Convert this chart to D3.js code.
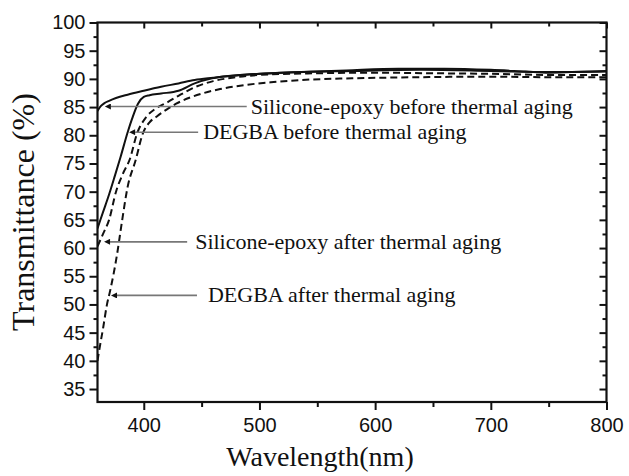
<!DOCTYPE html>
<html>
<head>
<meta charset="utf-8">
<script src="https://cdn.jsdelivr.net/npm/d3@7"></script>
<style>
  body { margin: 0; background: #fff; }
  svg { display: block; }
  .tick text { font-family: "Liberation Sans", Arial, sans-serif; font-size: 20px; fill: #111; }
  .tick line { stroke: #111; stroke-width: 2px; }
  .serif { font-family: "Liberation Serif", "Times New Roman", serif; fill: #111; }
</style>
</head>
<body>
<div id="chart"></div>
<script>
// wavelength (nm) / transmittance (%)
var siBeforeNm  = [360, 363, 366, 370, 376, 386, 400, 415, 430, 444, 460, 473, 500, 536, 575, 620, 660, 700, 730, 750, 770, 800];
var siBeforeT   = [84.3, 85.2, 85.7, 86.1, 86.6, 87.2, 87.9, 88.6, 89.2, 89.8, 90.2, 90.5, 90.9, 91.2, 91.5, 91.8, 91.8, 91.6, 91.3, 91.1, 91.2, 91.4];
var dgBeforeNm  = [360, 365, 370, 375, 380, 386, 390, 395, 400, 405, 415, 430, 444, 459, 480, 520, 580, 640, 700, 750, 800];
var dgBeforeT   = [63.5, 66.5, 69.5, 72.8, 76.2, 80.5, 83.0, 85.6, 86.8, 87.1, 87.4, 87.9, 89.2, 90.1, 90.6, 91.1, 91.4, 91.6, 91.4, 91.2, 91.3];
var siAfterNm   = [360, 365, 370, 376, 382, 388, 394, 402, 410, 420, 430, 445, 460, 480, 500, 550, 600, 650, 700, 750, 800];
var siAfterT    = [60.3, 62.6, 65.0, 70.0, 73.2, 75.8, 80.2, 83.2, 84.7, 85.8, 87.0, 88.6, 89.6, 90.3, 90.7, 91.0, 91.1, 91.0, 90.9, 90.7, 90.7];
var dgAfterNm   = [360, 362, 365, 368, 371, 374, 377, 381, 386, 393, 399, 405, 411, 420, 428, 440, 452, 466, 487, 510, 536, 580, 640, 700, 750, 800];
var dgAfterT    = [40.0, 42.5, 46.0, 49.8, 52.5, 55.5, 59.0, 64.5, 70.8, 75.6, 80.2, 82.3, 83.3, 84.6, 85.6, 86.7, 87.5, 88.2, 88.9, 89.4, 89.8, 90.1, 90.3, 90.4, 90.3, 90.3];

var seriesNames = ["Silicone-epoxy before thermal aging", "DEGBA before thermal aging",
                   "Silicone-epoxy after thermal aging", "DEGBA after thermal aging"];

// annotation arrows: tip wavelength, transmittance level, tail wavelength
var noteTipNm   = [365.5, 386.5, 364.8, 370.8];
var noteLevel   = [85.1, 80.55, 61.1, 51.6];
var noteTailNm  = [489, 447, 437.5, 446];

var xTicks      = [400, 500, 600, 700, 800];
var xMinor      = [450, 550, 650, 750];
var yTicks      = d3.range(35, 101, 5);
var yMinor      = d3.range(37.5, 100, 5);

(function() {
var W = 629, H = 476,
    pL = 97.5, pR = 606.5, pT = 22.5, pB = 402;

var x = d3.scaleLinear().domain([360, 800]).range([pL, pR]),
    y = d3.scaleLinear().domain([32.7, 100]).range([pB, pT]);

var svg = d3.select("#chart").append("svg").attr("width", W).attr("height", H);

var defs = svg.append("defs");
defs.append("marker").attr("id", "head")
  .attr("viewBox", "0 0 10 10").attr("refX", 0).attr("refY", 5)
  .attr("markerWidth", 8).attr("markerHeight", 6).attr("markerUnits", "userSpaceOnUse")
  .attr("orient", "auto")
  .append("path").attr("d", "M0,0 L10,5 L0,10 z").attr("fill", "#111");

defs.append("clipPath").attr("id", "plot")
  .append("rect").attr("x", pL).attr("y", pT).attr("width", pR - pL).attr("height", pB - pT);

// curves
var line = d3.line().curve(d3.curveMonotoneX)
  .x(function(d) { return x(d[0]); })
  .y(function(d) { return y(d[1]); });

var series = [
  {nm: siBeforeNm, t: siBeforeT, dash: null},
  {nm: dgBeforeNm, t: dgBeforeT, dash: null},
  {nm: siAfterNm,  t: siAfterT,  dash: "7,4"},
  {nm: dgAfterNm,  t: dgAfterT,  dash: "7,4"}
];

var curves = svg.append("g").attr("clip-path", "url(#plot)");
series.forEach(function(s) {
  curves.append("path")
    .datum(s.nm.map(function(v, i) { return [v, s.t[i]]; }))
    .attr("d", line)
    .attr("fill", "none")
    .attr("stroke", "#111")
    .attr("stroke-width", 2)
    .attr("stroke-dasharray", s.dash);
});

// axes
function tidy(g) { g.select(".domain").remove(); }

svg.append("g").attr("transform", "translate(0," + pB + ")")
  .call(d3.axisBottom(x).tickValues(xTicks).tickSize(8).tickPadding(8).tickFormat(d3.format("d")))
  .call(tidy);
svg.append("g").attr("transform", "translate(0," + pB + ")")
  .call(d3.axisBottom(x).tickValues(xMinor).tickSize(5).tickFormat(""))
  .call(tidy);
// top mirror, ticks point into the plot
svg.append("g").attr("transform", "translate(0," + pT + ")")
  .call(d3.axisBottom(x).tickValues(xTicks.concat(xMinor)).tickSize(6).tickFormat(""))
  .call(function(g) { tidy(g); g.selectAll(".tick").filter(function(d) { return xMinor.indexOf(d) >= 0; }).select("line").attr("y2", 4); });

svg.append("g").attr("transform", "translate(" + pL + ",0)")
  .call(d3.axisLeft(y).tickValues(yTicks).tickSize(8).tickPadding(4).tickFormat(d3.format("d")))
  .call(tidy);
svg.append("g").attr("transform", "translate(" + pL + ",0)")
  .call(d3.axisLeft(y).tickValues(yMinor).tickSize(4).tickFormat(""))
  .call(tidy);
// right mirror, ticks point into the plot
svg.append("g").attr("transform", "translate(" + pR + ",0)")
  .call(d3.axisLeft(y).tickValues(yTicks).tickSize(7).tickFormat(""))
  .call(tidy);
svg.append("g").attr("transform", "translate(" + pR + ",0)")
  .call(d3.axisLeft(y).tickValues(yMinor).tickSize(4).tickFormat(""))
  .call(tidy);

svg.append("rect")
  .attr("x", pL).attr("y", pT).attr("width", pR - pL).attr("height", pB - pT)
  .attr("fill", "none").attr("stroke", "#111").attr("stroke-width", 2.2);

// annotations
var notes = svg.append("g");
seriesNames.forEach(function(name, i) {
  var yy = y(noteLevel[i]);
  notes.append("line")
    .attr("x1", x(noteTailNm[i])).attr("x2", x(noteTipNm[i]) + 7)
    .attr("y1", yy).attr("y2", yy)
    .attr("stroke", "#777").attr("stroke-width", 1.6)
    .attr("marker-end", "url(#head)");
  notes.append("text").attr("class", "serif")
    .attr("x", x(noteTailNm[i]) + [4, 5, 8, 11][i])
    .attr("y", yy + 7)
    .style("font-size", "22px")
    .text(name);
});

// axis titles
svg.append("text").attr("class", "serif")
  .attr("transform", "translate(34,212) rotate(-90)")
  .attr("text-anchor", "middle")
  .style("font-size", "32px")
  .text("Transmittance (%)");

svg.append("text").attr("class", "serif")
  .attr("x", 320).attr("y", 466)
  .attr("text-anchor", "middle")
  .style("font-size", "28px")
  .text("Wavelength(nm)");
})();
</script>
</body>
</html>
